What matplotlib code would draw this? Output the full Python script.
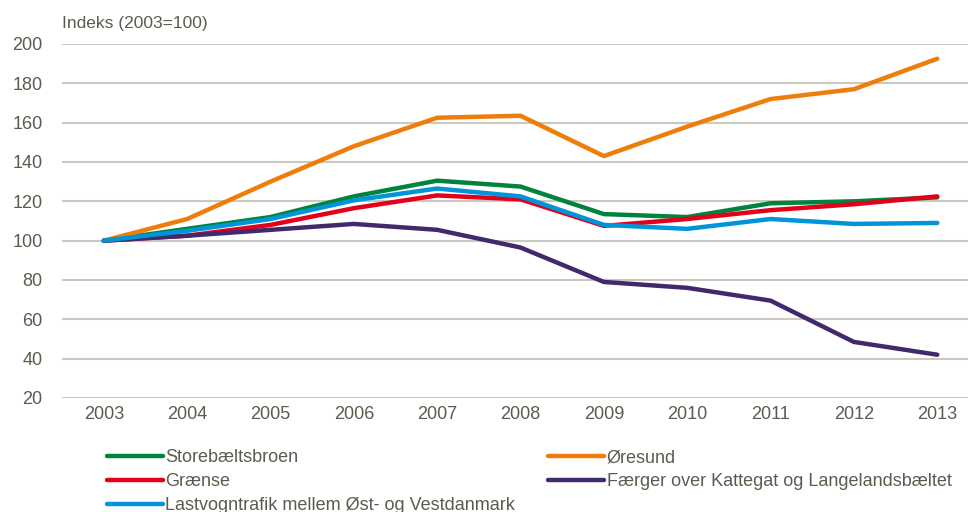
import matplotlib
matplotlib.use("Agg")
import matplotlib.pyplot as plt

plt.rcParams["font.family"] = ["Liberation Sans", "DejaVu Sans"]

years = [2003, 2004, 2005, 2006, 2007, 2008, 2009, 2010, 2011, 2012, 2013]

storebaelt = [100, 106, 112, 122.5, 130.5, 127.5, 113.5, 112, 119, 120, 122]
oresund = [100, 111, 130, 148, 162.5, 163.5, 143, 158, 172, 177, 192.5]
graense = [100, 102.5, 108, 116.5, 123, 121, 107.5, 111, 115.5, 118.5, 122.5]
faerger = [100, 102.5, 105.5, 108.5, 105.5, 96.5, 79, 76, 69.5, 48.5, 42]
lastvogn = [100, 105, 111, 120.5, 126.5, 122.5, 108, 106, 111, 108.5, 109]

series = [
    ("Storebæltsbroen", storebaelt, "#00843d"),
    ("Øresund", oresund, "#ef7d0b"),
    ("Grænse", graense, "#e2001a"),
    ("Færger over Kattegat og Langelandsbæltet", faerger, "#41296b"),
    ("Lastvogntrafik mellem Øst- og Vestdanmark", lastvogn, "#0095d9"),
]

TXT = "#5b5b4f"
GRID = "#c9c9bd"

fig = plt.figure(figsize=(9.71, 5.12), dpi=100)
ax = fig.add_axes([0.064, 0.2227, 0.933, 0.6914])

lines = {}
for name, vals, col in series:
    (ln,) = ax.plot(years, vals, color=col, linewidth=3.2, label=name,
                    solid_capstyle="round", solid_joinstyle="round")
    lines[name] = ln

ax.set_xlim(2002.5, 2013.37)
ax.set_ylim(20, 200)
ax.set_yticks(range(20, 201, 20))
ax.set_xticks(years)
ax.grid(axis="y", color=GRID, linewidth=1.5)
ax.set_axisbelow(True)
for s in ax.spines.values():
    s.set_visible(False)
ax.tick_params(length=0, labelsize=13, colors=TXT)
ax.tick_params(axis="x", pad=6)
ax.tick_params(axis="y", pad=14)

fig.text(0.064, 0.955, "Indeks (2003=100)", fontsize=12.5, color=TXT,
         va="center", ha="left")

# legend in two columns, filled column by column
order = ["Storebæltsbroen", "Grænse", "Lastvogntrafik mellem Øst- og Vestdanmark",
         "Øresund", "Færger over Kattegat og Langelandsbæltet"]
leg = fig.legend([lines[n] for n in order], order, ncol=2, loc="upper left",
                 bbox_to_anchor=(0.110, 0.123), frameon=False, fontsize=13,
                 handlelength=3.1, handletextpad=0.15, columnspacing=1.81,
                 labelspacing=0.39, borderaxespad=0, borderpad=0)
for t in leg.get_texts():
    t.set_color(TXT)

fig.savefig("out.png", dpi=100)
